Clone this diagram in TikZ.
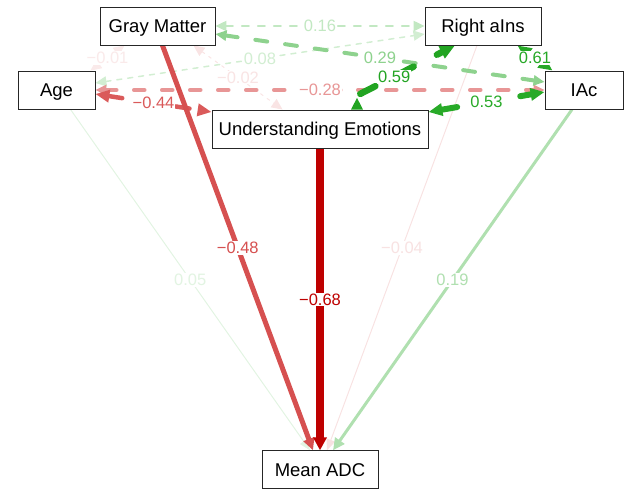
\documentclass[tikz,border=0pt]{standalone}
\usepackage{fontspec}
\setmainfont{Liberation Sans}
\usetikzlibrary{arrows.meta,calc,backgrounds}
\definecolor{r01}{RGB}{250,234,234}
\definecolor{r02}{RGB}{249,228,228}
\definecolor{r04}{RGB}{248,226,226}
\definecolor{g05}{RGB}{226,244,226}
\definecolor{g08}{RGB}{210,238,210}
\definecolor{g16}{RGB}{194,232,194}
\definecolor{g19}{RGB}{176,224,176}
\definecolor{r28}{RGB}{232,150,150}
\definecolor{g29}{RGB}{142,210,142}
\definecolor{r44}{RGB}{218,90,90}
\definecolor{r48}{RGB}{214,80,80}
\definecolor{g53}{RGB}{40,170,40}
\definecolor{g59}{RGB}{34,164,34}
\definecolor{g61}{RGB}{38,168,38}
\definecolor{r68}{RGB}{190,0,0}
\begin{document}
\begin{tikzpicture}[x=1pt,y=-1pt,
 box/.style={draw=black!85,line width=0.9pt,fill=white,minimum height=38pt,inner sep=0pt,text height=13.3pt,text depth=0pt,font=\fontsize{18.5}{22}\selectfont},
 lab/.style={fill=white,inner sep=0.8pt,font=\fontsize{16.5}{19}\selectfont},
 reg/.style={line cap=round,-{Triangle[length=12pt,width=11pt]}},
 regthin/.style={line cap=round,-{Triangle[length=11pt,width=9pt]}},
 cov/.style={line cap=round,{Triangle[length=11pt,width=10pt]}-{Triangle[length=11pt,width=10pt]}},
 covbig/.style={line cap=round,{Triangle[length=14pt,width=12pt]}-{Triangle[length=14pt,width=12pt]}},
]
\useasboundingbox (0,0) rectangle (624,488);
\node[box,minimum width=115pt] (gm) at (157.5,26) {Gray Matter};
\node[box,minimum width=116pt] (ri) at (483,26) {Right aIns};
\node[box,minimum width=77pt] (age) at (56.5,90) {Age};
\node[box,minimum width=78pt] (iac) at (584,90) {IAc};
\node[box,minimum width=216pt] (ue) at (320,129) {Understanding Emotions};
\node[box,minimum width=116pt] (madc) at (320,469.8) {Mean ADC};
\begin{pgfonlayer}{background}
\draw[cov,r01,line width=0.8pt,dash pattern=on 3pt off 4pt] ($(age.north east)+(-5,0)$) -- ($(gm.south west)+(25,0)$) node[lab,pos=0.5]{−0.01};
\draw[cov,r02,line width=1pt,dash pattern=on 3pt off 5pt] ($(gm.south east)+(-22,0)$) -- ($(ue.north west)+(71,0)$) node[lab,pos=0.5]{−0.02};
\draw[regthin,r04,line width=1pt] ($(ri.south)+(-6,0)$) -- ($(madc.north)+(7,0)$) node[lab,pos=0.5]{−0.04};
\draw[regthin,g05,line width=1pt] ($(age.south)+(14,0)$) -- ($(madc.north)+(-10,0)$) node[lab,pos=0.5]{0.05};
\draw[cov,g08,line width=1.5pt,dash pattern=on 5pt off 6pt] ($(age.east)+(0,-7)$) -- ($(ri.west)+(0,8)$) node[lab,pos=0.5]{0.08};
\draw[cov,g16,line width=2.2pt,dash pattern=on 7pt off 9pt] (gm.east) -- (ri.west) node[lab,pos=0.5]{0.16};
\draw[reg,g19,line width=3pt] ($(iac.south)+(-12,0)$) -- ($(madc.north)+(13,0)$) node[lab,pos=0.5]{0.19};
\draw[cov,r28,line width=3.5pt,dash pattern=on 11pt off 17pt] (age.east) -- (iac.west) node[lab,pos=0.5]{−0.28};
\draw[cov,g29,line width=4pt,dash pattern=on 12pt off 18pt] ($(gm.east)+(0,8)$) -- ($(iac.west)+(0,-8)$) node[lab,pos=0.5]{0.29};
\draw[covbig,r44,line width=4.5pt,dash pattern=on 14pt off 20pt] ($(age.east)+(0,4)$) -- ($(ue.west)+(0,-17)$) node[lab,pos=0.5]{−0.44};
\draw[reg,r48,line width=5pt] ($(gm.south)+(5,0)$) -- ($(madc.north)+(-7,0)$) node[lab,pos=0.5]{−0.48};
\draw[covbig,g53,line width=6pt,dash pattern=on 16pt off 24pt] ($(ue.east)+(0,-17)$) -- ($(iac.west)+(0,2)$) node[lab,pos=0.5]{0.53};
\draw[g59,line width=6.5pt,line cap=round,line join=round,dash pattern=on 17pt off 26pt,dash phase=33pt,{Triangle[reversed,length=12pt,width=11pt]}-{Triangle[length=15pt,width=13pt]}] ($(ue.north)+(37,0)$) -- ++(0,-14) -- ($(ri.south)+(-28,0)$) node[lab,pos=0.38]{0.59};
\draw[covbig,g61,line width=5pt,dash pattern=on 12pt off 14pt] ($(ri.south east)+(-24,0)$) -- ($(iac.north west)+(8,0)$) node[lab,pos=0.5]{0.61};
\draw[r68,line width=8pt,-{Triangle[length=13pt,width=13pt]}] (ue.south) -- (madc.north) node[lab,pos=0.5]{−0.68};
\end{pgfonlayer}
\end{tikzpicture}
\end{document}
